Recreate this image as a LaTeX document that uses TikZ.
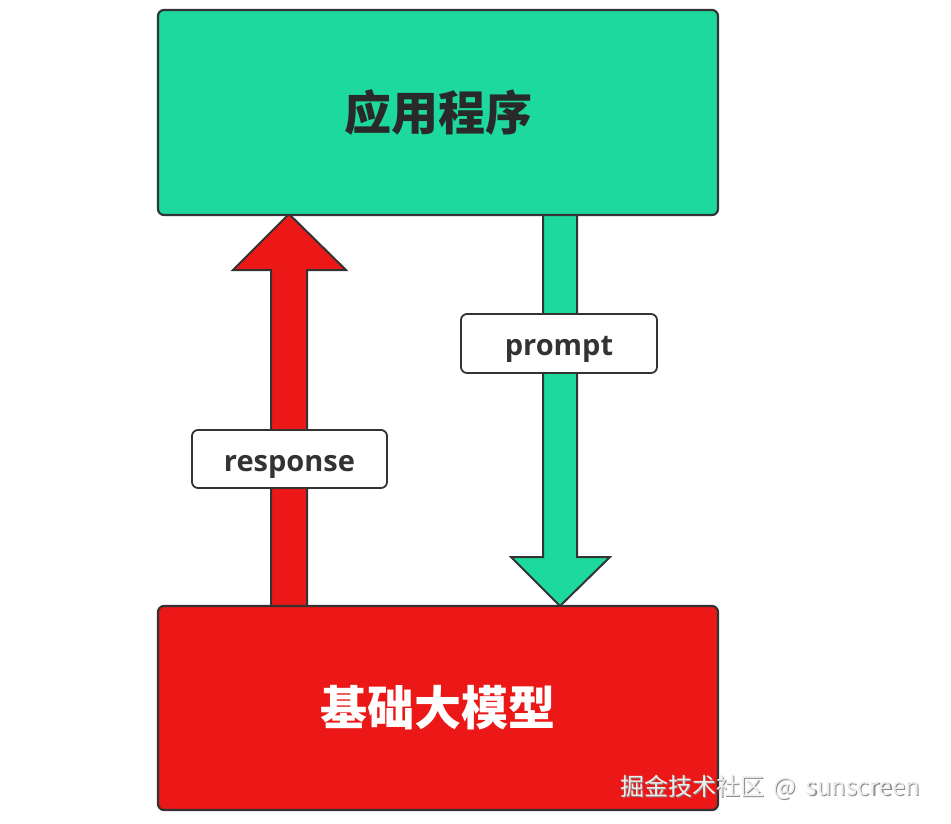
\documentclass[tikz,border=0pt]{standalone}
\usepackage{fontspec}
\newfontfamily\cjk{Noto Sans CJK SC}
\newfontfamily\lblfont{Open Sans}
\definecolor{appgreen}{HTML}{1ED99D}
\definecolor{modelred}{HTML}{EC1818}
\definecolor{edge}{HTML}{333333}
\begin{document}
\begin{tikzpicture}[x=1pt,y=-1pt,
  bigbox/.style={draw=edge,line width=2.2pt,rounded corners=6pt,minimum width=560pt,minimum height=205pt,inner sep=0pt},
  tagbox/.style={draw=edge,line width=1.8pt,rounded corners=6pt,fill=white,minimum width=195pt,minimum height=58pt,inner sep=0pt,text height=24pt,text depth=0pt,text=edge,font=\lblfont\bfseries\fontsize{29}{32}\selectfont},
  blockarrow/.style={draw=edge,line width=2pt,line join=miter},
  wmark/.style={anchor=west,inner sep=0pt,font=\cjk\fontsize{24}{26}\selectfont}]
\useasboundingbox (0,0) rectangle (951,823);
\fill[white] (0,0) rectangle (951,823);
\coordinate (appc) at (438,112.5);
\coordinate (modc) at (438,708);
% arrows (drawn first, boxes on top)
\coordinate (rtip) at (289,214);
\coordinate (rbase) at (289,608);
\draw[blockarrow,fill=modelred] (rbase) ++(-18,0) -- ++(0,-338) -- ++(-38,0) -- (rtip) -- ++(57,56) -- ++(-39,0) -- ++(0,338) -- cycle;
\coordinate (gtop) at (560,212);
\coordinate (gtip) at (560,606);
\draw[blockarrow,fill=appgreen] (gtop) ++(-17,0) -- ++(0,345) -- ++(-32,0) -- (gtip) -- ++(50,-49) -- ++(-33,0) -- ++(0,-345) -- cycle;
% boxes
\node[bigbox,fill=appgreen,text=edge!80!black,font=\cjk\bfseries\fontsize{47}{50}\selectfont] (app) at (appc) {\raisebox{-4.5pt}{应用程序}};
\node[bigbox,fill=modelred,text=white,font=\cjk\bfseries\fontsize{47}{50}\selectfont,minimum height=204pt] (model) at (modc) {\raisebox{2pt}{基础大模型}};
% labels
\node[tagbox] (resp) at (289.5,459) {response};
\node[tagbox,minimum width=196pt,minimum height=59pt] (prom) at (559,343.5) {prompt};
% watermark
\node[wmark,text=black!45] (wms) at (621.2,788.2) {掘金技术社区\hspace{9pt}@\hspace{10pt}sunscreen};
\node[wmark,text=white!93!black] (wm) at (620,787) {掘金技术社区\hspace{9pt}@\hspace{10pt}sunscreen};
\end{tikzpicture}
\end{document}
